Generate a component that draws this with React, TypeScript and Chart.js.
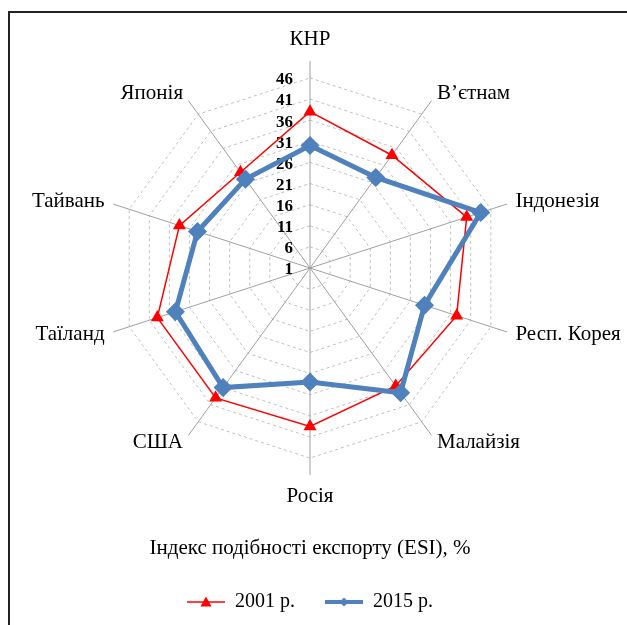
import React, { useEffect, useRef } from 'react';
import { Chart, registerables } from 'chart.js';

Chart.register(...registerables);

const categories = ['КНР', 'В’єтнам', 'Індонезія', 'Респ. Корея', 'Малайзія', 'Росія', 'США', 'Таїланд', 'Тайвань', 'Японія'];
const values2001 = [38, 34, 40, 37.5, 35.5, 38.5, 39, 39, 33.5, 29];
const values2015 = [30, 27.5, 43.5, 29.5, 37.5, 28, 36, 34.5, 29, 27];
const seriesLabels = ['2001 р.', '2015 р.'];
const tickValues = [1, 6, 11, 16, 21, 26, 31, 36, 41, 46];
const axisMin = 1;
const axisMax = 50;
const chartTitle = 'Індекс подібності експорту (ESI), %';

const FONT = "'Liberation Serif', 'Times New Roman', serif";
const RED = '#ff0000';
const BLUE = '#4f81bd';
const LABEL_PAD = 9;

function makeMarker(color: string, lineWidth: number, kind: 'triangle' | 'diamond') {
  const c = document.createElement('canvas');
  c.width = 38;
  c.height = 14;
  const ctx = c.getContext('2d')!;
  ctx.strokeStyle = color;
  ctx.lineWidth = lineWidth;
  ctx.beginPath();
  ctx.moveTo(0, 7);
  ctx.lineTo(38, 7);
  ctx.stroke();
  ctx.fillStyle = color;
  ctx.beginPath();
  if (kind === 'triangle') {
    ctx.moveTo(19, 1.5);
    ctx.lineTo(24.5, 11.5);
    ctx.lineTo(13.5, 11.5);
  } else {
    ctx.moveTo(19, 2.5);
    ctx.lineTo(23.5, 7);
    ctx.lineTo(19, 11.5);
    ctx.lineTo(14.5, 7);
  }
  ctx.closePath();
  ctx.fill();
  return c;
}

const tickLabelPlugin = {
  id: 'leftTickLabels',
  beforeDatasetsDraw(chart: any) {
    const scale = chart.scales.r;
    const ctx = chart.ctx;
    ctx.save();
    ctx.font = `bold 17px ${FONT}`;
    ctx.fillStyle = '#000';
    ctx.textAlign = 'right';
    ctx.textBaseline = 'middle';
    scale.ticks.forEach((t: any) => {
      const d = scale.getDistanceFromCenterForValue(t.value);
      ctx.fillText(String(t.value), scale.xCenter - 17, scale.yCenter - d + 2);
    });
    ctx.restore();
  },
};

// Size the radar from the vertical space only (labels at the sides may use the margins),
// and centre the side labels vertically on their axis ends, as the original does.
function refit(scale: any) {
  const items = scale._pointLabelItems;
  if (!items || !items.length) return;
  const h = items[0].bottom - items[0].top;
  scale.xCenter = Math.floor(scale.left + scale.width / 2);
  scale.yCenter = Math.floor(scale.top + scale.height / 2);
  scale.drawingArea = Math.floor(scale.height / 2 - h - LABEL_PAD);
  items.forEach((item: any, i: number) => {
    const w = item.right - item.left;
    const pos = scale.getPointPosition(i, scale.drawingArea + LABEL_PAD);
    const deg = Math.round(((pos.angle + Math.PI / 2) * 180) / Math.PI + 360) % 360;
    let align = 'center';
    let left = pos.x - w / 2;
    let y = pos.y - h / 2;
    if (deg === 0) {
      y = pos.y - h;
    } else if (deg === 180) {
      y = pos.y;
    } else if (deg < 180) {
      align = 'left';
      left = pos.x;
    } else {
      align = 'right';
      left = pos.x - w;
    }
    item.x = pos.x;
    item.y = y;
    item.textAlign = align;
    item.left = left;
    item.right = left + w;
    item.top = y;
    item.bottom = y + h;
  });
}

export default function App() {
  const ref = useRef<HTMLCanvasElement | null>(null);

  useEffect(() => {
    document.body.style.margin = '0';
    const markers = [makeMarker(RED, 1.5, 'triangle'), makeMarker(BLUE, 4, 'diamond')];
    const chart = new Chart(ref.current!, {
      type: 'radar',
      data: {
        labels: categories,
        datasets: [
          {
            label: seriesLabels[0],
            data: values2001,
            borderColor: RED,
            backgroundColor: RED,
            borderWidth: 1.5,
            pointStyle: 'triangle',
            pointRadius: 6,
            pointBackgroundColor: RED,
            pointBorderColor: RED,
            fill: false,
            order: 1,
          },
          {
            label: seriesLabels[1],
            data: values2015,
            borderColor: BLUE,
            backgroundColor: BLUE,
            borderWidth: 5,
            pointStyle: 'rectRot',
            pointRadius: 6,
            pointBackgroundColor: BLUE,
            pointBorderColor: BLUE,
            fill: false,
            order: 0,
          },
        ],
      },
      options: {
        responsive: false,
        animation: false,
        layout: { padding: { top: 27, left: 8, right: 15, bottom: 3 } },
        scales: {
          r: {
            min: axisMin,
            max: axisMax,
            afterBuildTicks: (scale: any) => {
              scale.ticks = tickValues.map((v) => ({ value: v }));
            },
            afterFit: (scale: any) => refit(scale),
            ticks: { display: false },
            grid: { color: '#c0c0c0', lineWidth: 1 },
            border: { dash: [3, 3] } as any,
            angleLines: { color: '#a0a0a0', lineWidth: 1 },
            pointLabels: {
              font: { family: FONT, size: 21 },
              color: '#000',
              padding: LABEL_PAD,
            },
          },
        },
        plugins: {
          tooltip: { enabled: false },
          title: {
            display: true,
            text: chartTitle,
            position: 'bottom',
            weight: 500,
            color: '#000',
            font: { family: FONT, size: 21, weight: 'normal' },
            padding: { top: 26, bottom: 1 },
          } as any,
          legend: {
            position: 'bottom',
            labels: {
              usePointStyle: true,
              pointStyleWidth: 38,
              font: { family: FONT, size: 20 },
              color: '#000',
              padding: 30,
              generateLabels: (ch: any) =>
                ch.data.datasets.map((ds: any, i: number) => ({
                  text: ds.label,
                  fillStyle: ds.borderColor,
                  strokeStyle: ds.borderColor,
                  lineWidth: 0,
                  pointStyle: markers[i],
                  hidden: false,
                  datasetIndex: i,
                  fontColor: '#000',
                })),
            },
          },
        },
      },
      plugins: [tickLabelPlugin],
    } as any);
    return () => chart.destroy();
  }, []);

  return (
    <div style={{ position: 'absolute', left: 0, top: 0, width: 627, height: 625, background: '#fff', overflow: 'hidden' }}>
      <div
        style={{
          position: 'absolute',
          left: 8,
          top: 11,
          width: 700,
          height: 700,
          borderTop: '2px solid #222',
          borderLeft: '2px solid #222',
        }}
      />
      <canvas ref={ref} width={627} height={625} style={{ position: 'absolute', left: 0, top: 0 }} />
    </div>
  );
}
